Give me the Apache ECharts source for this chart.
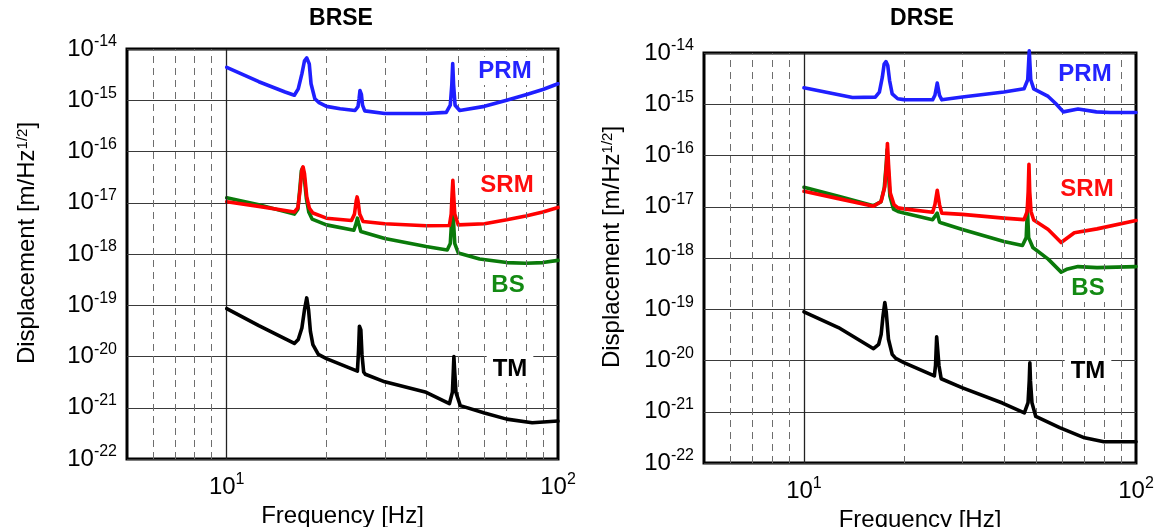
<!DOCTYPE html>
<html><head><meta charset="utf-8">
<script src="https://cdn.jsdelivr.net/npm/echarts@6/dist/echarts.min.js"></script>
<style>html,body{margin:0;padding:0;background:#fff}#c{width:1158px;height:527px}</style>
</head><body><div id="c"></div>
<script>
// ---------- data ----------
const panelTitles = ['BRSE', 'DRSE'];
const labelNames = ['PRM', 'SRM', 'BS', 'TM'];
const xAxisName = 'Frequency [Hz]';
const yAxisName = 'Displacement [m/Hz{s|1/2}]';
const minorFreqs = [6, 7, 8, 9, 20, 30, 40, 50, 60, 70, 80, 90];
const decadeFreqs = [10];
const xRange = [5, 100];
const yRange = [1e-22, 1e-14];

// [frequency Hz, displacement m/Hz^1/2]
const brsePRM = [[10,4.4e-15],[12.5,2.3e-15],[15,1.45e-15],[16,1.25e-15],[16.44,1.67e-15],[16.86,3.27e-15],[17.17,5.9e-15],[17.44,6.7e-15],[17.75,5.1e-15],[17.97,2.1e-15],[18.45,1.07e-15],[19,9e-16],[20,7.6e-16],[22,6.8e-16],[24.4,6.3e-16],[24.9,7.5e-16],[25.1,1.1e-15],[25.25,1.55e-15],[25.35,1.6e-15],[25.5,1.3e-15],[25.7,8e-16],[26.1,6.2e-16],[30,5.5e-16],[40,5.5e-16],[46,5.8e-16],[47.3,8e-16],[47.8,2e-15],[48.1,5.2e-15],[48.4,2e-15],[48.9,8e-16],[50.5,6.3e-16],[60,7.6e-16],[70,1.0e-15],[80,1.28e-15],[90,1.62e-15],[100,2.1e-15]];
const brseSRM = [[10,1.05e-17],[12.5,8.5e-18],[16,6.6e-18],[16.4,8e-18],[16.65,1.78e-17],[16.86,4.35e-17],[17.0,5e-17],[17.17,3.7e-17],[17.44,1.32e-17],[17.75,7.9e-18],[18.2,6.3e-18],[20,5e-18],[23.8,4.5e-18],[24.3,6e-18],[24.6,1.1e-17],[24.75,1.3e-17],[24.9,1.1e-17],[25.2,6e-18],[25.8,4.3e-18],[30,3.9e-18],[40,3.55e-18],[47,3.6e-18],[47.6,6e-18],[47.9,1.5e-17],[48.15,2.75e-17],[48.4,1.5e-17],[48.8,6e-18],[50,3.7e-18],[60,3.9e-18],[70,4.65e-18],[80,5.5e-18],[90,6.6e-18],[100,8.1e-18]];
const brseBS = [[10,1.25e-17],[12.5,9.1e-18],[16,6e-18],[16.4,7.5e-18],[16.6,1.7e-17],[16.8,4.2e-17],[16.95,4.8e-17],[17.1,3.6e-17],[17.4,1.2e-17],[17.7,6.5e-18],[18.1,4.8e-18],[20,3.7e-18],[24.2,2.9e-18],[24.6,4e-18],[24.8,5e-18],[25.0,4e-18],[25.4,2.75e-18],[30,2e-18],[40,1.4e-18],[46.3,1.2e-18],[47.3,1.6e-18],[47.8,5e-18],[48.0,1.2e-17],[48.3,5e-18],[48.8,1.6e-18],[50,1.05e-18],[58,8e-19],[70,6.8e-19],[80,6.6e-19],[90,6.8e-19],[100,7.5e-19]];
const brseTM = [[10,8.6e-20],[12.5,4e-20],[16,1.8e-20],[16.44,2.15e-20],[16.86,3.6e-20],[17.17,8.2e-20],[17.44,1.39e-19],[17.66,8.2e-20],[17.89,3.1e-20],[18.2,1.7e-20],[18.9,1.1e-20],[20,9.1e-21],[24.8,5.2e-21],[25.0,1.3e-20],[25.15,3.9e-20],[25.4,3.3e-20],[25.6,1.1e-20],[25.9,5e-21],[26.2,4.5e-21],[30,3.2e-21],[40,2e-21],[47,1.2e-21],[48.0,2e-21],[48.35,6e-21],[48.5,1e-20],[48.7,6e-21],[49.2,2e-21],[50.7,1.1e-21],[60,7.9e-22],[70,6e-22],[83.6,5.1e-22],[100,5.5e-22]];

const drsePRM = [[10,2.1e-15],[14,1.35e-15],[16.4,1.38e-15],[16.87,1.73e-15],[17.22,3.37e-15],[17.44,6.1e-15],[17.66,6.8e-15],[17.88,5.7e-15],[18.11,2.9e-15],[18.44,1.6e-15],[19.16,1.28e-15],[20,1.23e-15],[24.4,1.22e-15],[24.8,1.5e-15],[25.2,2.6e-15],[25.6,1.5e-15],[26,1.22e-15],[30,1.38e-15],[40,1.73e-15],[46,2e-15],[47.2,3e-15],[47.7,1.1e-14],[48.2,3e-15],[49.2,2e-15],[54.4,1.42e-15],[57.4,1.02e-15],[60.4,7.1e-16],[66.9,8.1e-16],[76,7.1e-16],[83.6,6.9e-16],[100,6.9e-16]];
const drseSRM = [[10,2e-17],[12.7,1.44e-17],[16.2,1.02e-17],[17.08,1.27e-17],[17.52,2.48e-17],[17.75,8.2e-17],[17.84,1.72e-16],[17.97,7e-17],[18.2,1.85e-17],[18.67,1.1e-17],[19.2,9.5e-18],[20,9.1e-18],[24.4,7.8e-18],[24.8,1.1e-17],[25.2,2.1e-17],[25.6,1.1e-17],[26,7.5e-18],[30,7.1e-18],[40,6e-18],[46,5.6e-18],[47.0,8e-18],[47.35,2e-17],[47.6,6.7e-17],[47.85,2e-17],[48.3,8e-18],[49.2,5.5e-18],[54.4,3.6e-18],[59.5,2e-18],[65.2,3.1e-18],[76.3,3.7e-18],[100,5.4e-18]];
const drseBS = [[10,2.4e-17],[12.7,1.6e-17],[16.2,1.05e-17],[17.05,1.25e-17],[17.45,2.3e-17],[17.7,7e-17],[17.8,1.3e-16],[17.92,6e-17],[18.15,1.6e-17],[18.6,9e-18],[19.2,8.1e-18],[20,7.55e-18],[24.4,5.6e-18],[24.8,6.5e-18],[25.2,7.5e-18],[25.6,5e-18],[26,4.8e-18],[30,3.6e-18],[40,2.1e-18],[45.5,1.76e-18],[46.7,2.5e-18],[47.1,9e-18],[47.5,2.5e-18],[48.9,1.6e-18],[54.4,9.5e-19],[59.5,5.3e-19],[61.8,6e-19],[66.9,6.8e-19],[76.3,6.5e-19],[100,6.8e-19]];
const drseTM = [[10,8.9e-20],[12.7,4.4e-20],[16.2,1.7e-20],[16.79,2.07e-20],[17.08,3.24e-20],[17.3,7.4e-20],[17.52,1.35e-19],[17.7,8.6e-20],[17.97,2.6e-20],[18.44,1.32e-20],[18.9,1.1e-20],[20,9.1e-21],[24.7,5e-21],[24.9,8e-21],[25.1,2.9e-20],[25.3,2.9e-20],[25.5,8e-21],[25.9,4.4e-21],[29.9,2.95e-21],[39.6,1.48e-21],[46.1,9.5e-22],[47.3,1.5e-21],[47.7,4e-21],[47.9,9e-21],[48.1,4e-21],[48.6,1.5e-21],[49.9,8.1e-22],[58.9,4.9e-22],[70,3.1e-22],[80,2.6e-22],[100,2.6e-22]];

// ---------- chart ----------
// ECharts' log axis misbehaves with explicit bounds as tiny as 1e-22, so the
// y values are expressed in units of 1e-22 m/Hz^1/2 and the labels shifted back.
const Y_UNIT_EXP = -22;
const yUnit = Math.pow(10, Y_UNIT_EXP);
const toUnits = arr => arr.map(p => [p[0], p[1] / yUnit]);

const FONT = 'Liberation Sans, Arial, sans-serif';
const colors = { PRM: '#1f1fff', SRM: '#ff0000', BS: '#0a7a0a', TM: '#000000' };
const labelColors = { PRM: '#2424ff', SRM: '#ff0d0d', BS: '#138a13', TM: '#000000' };

function powLabelShift(shift) {
  return function (v) {
    const l = Math.log10(v);
    const e = Math.round(l);
    if (Math.abs(l - e) > 1e-6) return '';
    return '{b|10}{s|' + (e + shift) + '}';
  };
}
const tickRich = {
  b: { fontSize: 24, lineHeight: 30, color: '#000', fontFamily: FONT },
  s: { fontSize: 16, lineHeight: 16, verticalAlign: 'top', color: '#000', fontFamily: FONT }
};

const grids = [
  { left: 127, top: 49, width: 431, height: 410 },
  { left: 704, top: 53, width: 432, height: 410 }
];
const panelData = [
  { BS: brseBS, SRM: brseSRM, PRM: brsePRM, TM: brseTM },
  { BS: drseBS, SRM: drseSRM, PRM: drsePRM, TM: drseTM }
];
const titleX = [336, 917];
const labelPos = [
  { PRM: [505, 71], SRM: [507, 185], BS: [508, 285], TM: [510, 369] },
  { PRM: [1085, 74], SRM: [1087, 189], BS: [1088, 288], TM: [1088, 371] }
];

const option = {
  animation: false,
  backgroundColor: '#fff',
  grid: grids.map(g => Object.assign({ show: true, borderColor: '#000', borderWidth: 3, backgroundColor: '#fff',
    containLabel: false, outerBoundsMode: 'none' }, g)),
  xAxis: grids.map((g, i) => ({
    type: 'log', gridIndex: i, min: xRange[0], max: xRange[1], logBase: 10,
    axisLine: { show: false }, axisTick: { show: false }, splitLine: { show: false },
    axisLabel: { formatter: powLabelShift(0), margin: 13, rich: tickRich, showMinLabel: true, showMaxLabel: true, hideOverlap: false },
    name: xAxisName, nameLocation: 'middle', nameGap: 27,
    nameTextStyle: { fontSize: 24, color: '#000', fontFamily: FONT }
  })),
  yAxis: grids.map((g, i) => ({
    type: 'log', gridIndex: i, min: yRange[0] / yUnit, max: yRange[1] / yUnit, logBase: 10, splitNumber: 8,
    axisLine: { show: false }, axisTick: { show: false },
    splitLine: { show: true, lineStyle: { color: '#3a3a3a', width: 1 } },
    axisLabel: { formatter: powLabelShift(Y_UNIT_EXP), margin: 10, rich: tickRich },
    name: yAxisName, nameLocation: 'middle', nameGap: i === 0 ? 88 : 80, nameRotate: 90,
    nameTextStyle: { fontSize: 24, color: '#000', fontFamily: FONT, padding: [0, 0, 0, 22],
      rich: { s: { fontSize: 15, lineHeight: 15, verticalAlign: 'top', color: '#000', fontFamily: FONT } } }
  })),
  title: panelTitles.map((t, i) => ({
    text: t, left: titleX[i], top: 2, textAlign: 'center',
    textStyle: { fontSize: 23, fontWeight: 'bold', color: '#000', fontFamily: FONT }
  })),
  graphic: [],
  series: []
};

panelData.forEach((pd, i) => {
  option.series.push({
    type: 'line', xAxisIndex: i, yAxisIndex: i, z: 1, silent: true,
    data: [[xRange[0], yRange[0] / yUnit]], symbol: 'none', lineStyle: { opacity: 0 },
    markLine: {
      silent: true, symbol: 'none', animation: false,
      label: { show: false },
      data: minorFreqs.map(f => ({ xAxis: f, lineStyle: { type: [7, 5], color: '#6e6e6e', width: 1 } }))
        .concat(decadeFreqs.map(f => ({ xAxis: f, lineStyle: { type: 'solid', color: '#222', width: 1.3 } })))
    }
  });
  ['BS', 'SRM', 'PRM', 'TM'].forEach((k, j) => {
    option.series.push({
      name: k, type: 'line', xAxisIndex: i, yAxisIndex: i, z: 3 + j,
      data: toUnits(pd[k]), symbol: 'none', smooth: false, clip: false,
      lineStyle: { color: colors[k], width: 3.6, join: 'round', cap: 'round' }
    });
  });
  labelNames.forEach(k => {
    const p = labelPos[i][k];
    option.graphic.push({
      type: 'text', x: p[0], y: p[1], z: 50,
      style: { text: k, fill: labelColors[k], font: 'bold 24px ' + FONT,
        align: 'center', verticalAlign: 'middle', textAlign: 'center', textVerticalAlign: 'middle',
        backgroundColor: '#fff', padding: [2, 6, 2, 6] }
    });
  });
});

const chart = echarts.init(document.getElementById('c'), null, { renderer: 'canvas' });
chart.setOption(option);
</script>
</body></html>
